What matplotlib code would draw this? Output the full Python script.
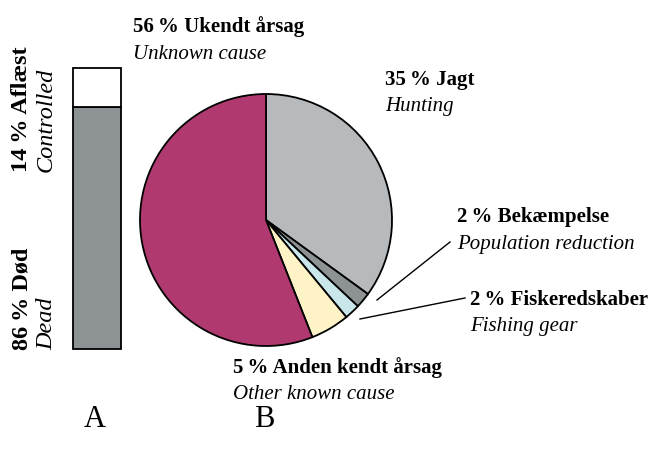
import numpy as np
import matplotlib.pyplot as plt
from matplotlib.patches import Rectangle

# Data
bar_labels = ["86\u2009% Død", "14\u2009% Aflæst"]
bar_labels_en = ["Dead", "Controlled"]
bar_values = [86, 14]

pie_labels = ["35\u2009% Jagt", "2\u2009% Bekæmpelse", "2\u2009% Fiskeredskaber",
              "5\u2009% Anden kendt årsag", "56\u2009% Ukendt årsag"]
pie_labels_en = ["Hunting", "Population reduction", "Fishing gear",
                 "Other known cause", "Unknown cause"]
pie_values = [35, 2, 2, 5, 56]
pie_colors = ["#b6babc", "#8d9294", "#c9e7eb", "#fdf3c6", "#b03a6f"]

plt.rcParams['font.family'] = ['Liberation Serif', 'DejaVu Serif']

f = plt.figure(figsize=(6.52, 4.49), dpi=100)
ax = f.add_axes([0, 0, 1, 1])

# A : barre empilée
bx, bw, btop, bbot = 73, 48, 68, 349
h = bbot - btop
y = bbot
for v, c in zip(bar_values, ["#8d9294", "white"]):
    hh = h * v / sum(bar_values)
    ax.add_patch(Rectangle((bx, y - hh), bw, hh, facecolor=c, edgecolor='black', lw=1.3))
    y -= hh

fs_rot = 17.5
for y0, lb, le in zip([350, 172], bar_labels, bar_labels_en):
    ax.text(27, y0, lb, rotation=90, rotation_mode='anchor', ha='left', va='baseline',
            fontsize=fs_rot, fontweight='bold')
    ax.text(52, y0, le, rotation=90, rotation_mode='anchor', ha='left', va='baseline',
            fontsize=fs_rot, style='italic')

# B : camembert (axe y inversé, d'où startangle=-90 et sens direct)
cx, cy, r = 266, 220, 126
ax.pie(pie_values, colors=pie_colors, startangle=-90, counterclock=True,
       center=(cx, cy), radius=r, frame=True,
       wedgeprops=dict(edgecolor='black', linewidth=1.3))
ax.set_xlim(0, 652)
ax.set_ylim(449, 0)
ax.set_aspect('equal')
ax.axis('off')

fs = 15
txt = [(385, 85, 111), (457, 222, 249), (470, 305, 331), (233, 373, 399), (133, 32, 59)]
for (x, y1, y2), lb, le in zip(txt, pie_labels, pie_labels_en):
    ax.text(x, y1, lb, ha='left', va='baseline', fontsize=fs, fontweight='bold')
    ax.text(x, y2, le, ha='left', va='baseline', fontsize=fs, style='italic')

ax.plot([377, 450], [300, 242], color='black', lw=1)
ax.plot([360, 465], [319, 298], color='black', lw=1)

ax.text(95, 427, "A", ha='center', va='baseline', fontsize=22)
ax.text(264, 427, "B", ha='center', va='baseline', fontsize=22)

f.savefig("out.png", dpi=100)
